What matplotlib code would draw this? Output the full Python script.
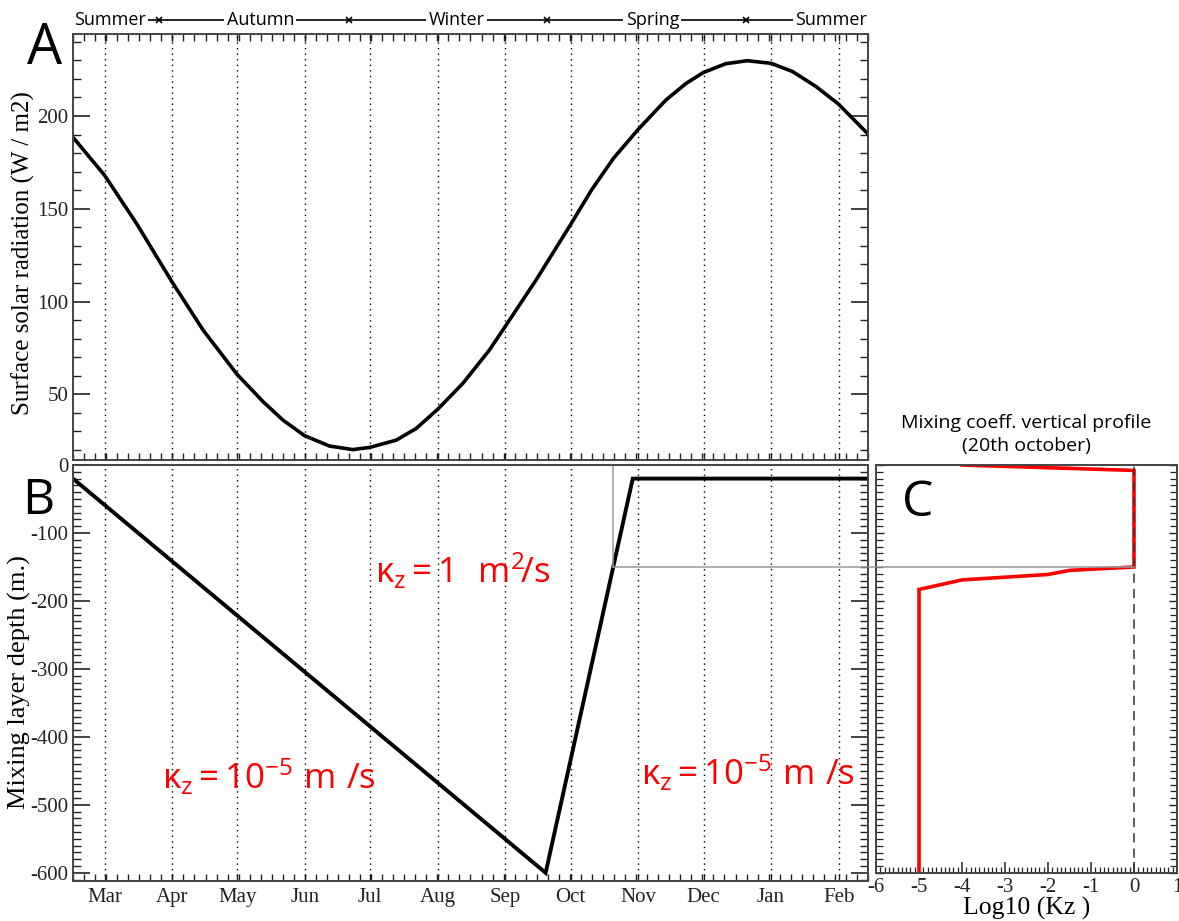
import numpy as np
import matplotlib
matplotlib.use('Agg')
import matplotlib.pyplot as plt
from matplotlib.ticker import MultipleLocator, FixedLocator, NullFormatter
from matplotlib.patches import ConnectionPatch
import matplotlib.transforms as mtransforms

plt.rcParams['mathtext.fontset'] = 'custom'
plt.rcParams['mathtext.rm'] = 'Open Sans'
plt.rcParams['mathtext.it'] = 'Open Sans:italic'
plt.rcParams['mathtext.bf'] = 'Open Sans:bold'
plt.rcParams['axes.unicode_minus'] = False

SERIF = 'Liberation Serif'
SANS = 'Open Sans'

# ---------------- data ----------------
month_names = ['Mar', 'Apr', 'May', 'Jun', 'Jul', 'Aug', 'Sep', 'Oct', 'Nov', 'Dec', 'Jan', 'Feb']
month_lengths = [31, 30, 31, 30, 31, 31, 30, 31, 30, 31, 31, 28]
first_month_day = 14.5   # day index of 1 March (axis starts mid-February)
year_days = 365

# Panel A : surface solar radiation (W/m2)
rad_day = [0, 14.4, 29.2, 45.4, 59.8, 75.3, 87.3, 96.4, 106.2, 117.8, 128.5, 136.3,
           148.4, 157.6, 167.5, 179, 191.2, 198.4, 212.6, 228.3, 238, 248, 259.5,
           272.2, 281.4, 289.5, 299.7, 309.6, 320.5, 330.3, 341, 351.4, 365]
rad_val = [188.5, 168.2, 142, 110.7, 84.5, 60.8, 46.0, 36.1, 27.8, 22.1, 20.2, 21.4,
           25.3, 31.6, 42.0, 55.9, 73.9, 86.5, 111.6, 141.2, 160, 177, 192.8,
           208.6, 217.5, 223.5, 228.2, 229.8, 228.4, 224.0, 216.0, 206.5, 190.3]

# Panel B : mixing layer depth (m)
mld_day = [0, 217, 257, 365]
mld_depth = [-20, -600, -20, -20]

# Panel C : log10(Kz) vertical profile on 20th October
kz_log = [-4, 0, 0, -1.5, -2, -4, -5, -5]
kz_depth = [0, -8, -150, -155, -161, -169, -183, -600]
profile_day = 248
profile_depth = -150

# seasons
season_names = ['Summer', 'Autumn', 'Winter', 'Spring', 'Summer']
season_label_day = [0.5, 86, 176, 266, 364.5]
season_change_day = [39.6, 126.6, 217.5, 308.9]

month_ticks = list(first_month_day + np.concatenate([[0], np.cumsum(month_lengths[:-1])]))

# ---------------- figure ----------------
W, H = 1179, 921
fig = plt.figure(figsize=(W / 100, H / 100), dpi=100)


def rect(l, r, t, b):
    return [l / W, 1 - b / H, (r - l) / W, (b - t) / H]


axA = fig.add_axes(rect(73, 868, 34, 460))
axB = fig.add_axes(rect(73, 868, 465, 881))
axC = fig.add_axes(rect(876, 1177, 465, 873))

spine_col = '#444444'
for ax in (axA, axB, axC):
    for s in ax.spines.values():
        s.set_color(spine_col)
        s.set_linewidth(1.4)

TICKFS = 15

# ---- Panel A ----
axA.plot(rad_day, rad_val, color='black', lw=2.6, solid_capstyle='butt', solid_joinstyle='round')
axA.set_xlim(0, year_days)
axA.set_ylim(14.6, 244.2)
for d in month_ticks:
    axA.axvline(d, color='black', ls=(0, (1, 3)), lw=1.0)
axA.xaxis.set_major_locator(FixedLocator(month_ticks))
axA.xaxis.set_minor_locator(MultipleLocator(year_days / 72))
axA.xaxis.set_major_formatter(NullFormatter())
axA.yaxis.set_major_locator(FixedLocator([50, 100, 150, 200]))
axA.yaxis.set_minor_locator(MultipleLocator(10))
axA.tick_params(which='both', direction='in', top=True, right=True, colors='#222222')
axA.tick_params(axis='x', which='both', length=5, width=1)
axA.tick_params(axis='y', which='major', length=12, width=1.2)
axA.tick_params(axis='y', which='minor', length=6, width=1)
for lab in axA.get_yticklabels():
    lab.set_fontfamily(SERIF)
    lab.set_fontsize(TICKFS)
fig.text(23 / W, 1 - 253 / H, 'Surface solar radiation (W / m2)', rotation=90,
         fontfamily=SERIF, fontsize=18, ha='center', va='center')

# seasons header
trans = mtransforms.blended_transform_factory(axA.transData, axA.transAxes)
yseason = (460 - 20) / (460 - 34)
axA.plot([33, 333], [yseason, yseason], transform=trans, color='black', lw=1.2,
         clip_on=False)
axA.plot(season_change_day, [yseason] * len(season_change_day), transform=trans,
         ls='none', marker='x', ms=4, mew=1.2, color='black', clip_on=False)
for i, (name, d) in enumerate(zip(season_names, season_label_day)):
    ha = 'left' if i == 0 else ('right' if i == len(season_names) - 1 else 'center')
    axA.text(d, yseason, name, transform=trans, ha=ha, va='center', fontsize=13,
             fontfamily=SANS, clip_on=False,
             bbox=dict(boxstyle='square,pad=0.12', fc='white', ec='none'))

fig.text(45 / W, 1 - 50 / H, 'A', fontsize=40, fontfamily=SANS, ha='center', va='center')

# ---- Panel B ----
axB.plot(mld_day, mld_depth, color='black', lw=2.8, solid_joinstyle='miter')
axB.set_xlim(0, year_days)
axB.set_ylim(-612, 0)
for d in month_ticks:
    axB.axvline(d, color='black', ls=(0, (1, 3)), lw=1.0)
axB.plot([profile_day, profile_day], [0, profile_depth], color='#999999', lw=1.1)
axB.plot([profile_day, year_days], [profile_depth, profile_depth], color='#999999', lw=1.1)
axB.xaxis.set_major_locator(FixedLocator(month_ticks))
axB.set_xticklabels(month_names)
axB.xaxis.set_minor_locator(MultipleLocator(year_days / 72))
axB.yaxis.set_major_locator(MultipleLocator(100))
axB.yaxis.set_minor_locator(MultipleLocator(10))
axB.tick_params(which='both', direction='in', right=True, colors='#222222')
axB.tick_params(axis='x', which='both', length=5, width=1, pad=5)
axB.tick_params(axis='y', which='major', length=12, width=1.2)
axB.tick_params(axis='y', which='minor', length=6, width=1)
for lab in axB.get_xticklabels() + axB.get_yticklabels():
    lab.set_fontfamily(SERIF)
    lab.set_fontsize(TICKFS)
fig.text(19 / W, 1 - 682 / H, 'Mixing layer depth (m.)', rotation=90,
         fontfamily=SERIF, fontsize=19, ha='center', va='center')

fig.text(38 / W, 1 - 501 / H, 'B', fontsize=36, fontfamily=SANS, ha='center', va='center')

red = '#ff0000'
axB.text(0.38, 0.745, r'$\mathrm{\kappa_z = 1\ \ m^2\!/s}$', color=red, fontsize=25,
         transform=axB.transAxes, ha='left', va='center')
axB.text(0.112, 0.25, r'$\mathrm{\kappa_z = 10^{-5}\ m\ /s}$', color=red, fontsize=25,
         transform=axB.transAxes, ha='left', va='center')
axB.text(0.714, 0.26, r'$\mathrm{\kappa_z = 10^{-5}\ m\ /s}$', color=red, fontsize=25,
         transform=axB.transAxes, ha='left', va='center')

# ---- Panel C ----
axC.plot(kz_log, kz_depth, color=red, lw=2.6, solid_joinstyle='miter')
axC.axvline(0, color='#333333', lw=1.1, ls=(0, (6, 4)))
axC.plot([-6, 0], [profile_depth, profile_depth], color='#999999', lw=1.1)
axC.set_xlim(-6, 1)
axC.set_ylim(-600, 0)
axC.xaxis.set_major_locator(MultipleLocator(1))
axC.xaxis.set_minor_locator(MultipleLocator(0.1))
axC.yaxis.set_major_locator(MultipleLocator(100))
axC.yaxis.set_minor_locator(MultipleLocator(10))
axC.tick_params(which='both', direction='in', right=True, labelleft=False, colors='#222222')
axC.tick_params(axis='x', which='major', length=8, width=1.1)
axC.tick_params(axis='x', which='minor', length=4, width=0.9)
axC.tick_params(axis='y', which='major', length=6, width=1)
axC.tick_params(axis='y', which='minor', length=5, width=0.9)
for lab in axC.get_xticklabels():
    lab.set_fontfamily(SERIF)
    lab.set_fontsize(TICKFS)
axC.set_xlabel('Log10 (Kz )', fontfamily=SERIF, fontsize=18.5, labelpad=0)
axC.set_title('Mixing coeff. vertical profile\n(20th october)', fontfamily=SANS,
              fontsize=14, pad=10, linespacing=1.35)
fig.text(918 / W, 1 - 503 / H, 'C', fontsize=36, fontfamily=SANS, ha='center', va='center')

# grey connector across the gap between B and C
con = ConnectionPatch(xyA=(year_days, profile_depth), coordsA=axB.transData,
                      xyB=(-6, profile_depth), coordsB=axC.transData,
                      color='#999999', lw=1.1)
fig.add_artist(con)

fig.savefig('out.png', dpi=100)
